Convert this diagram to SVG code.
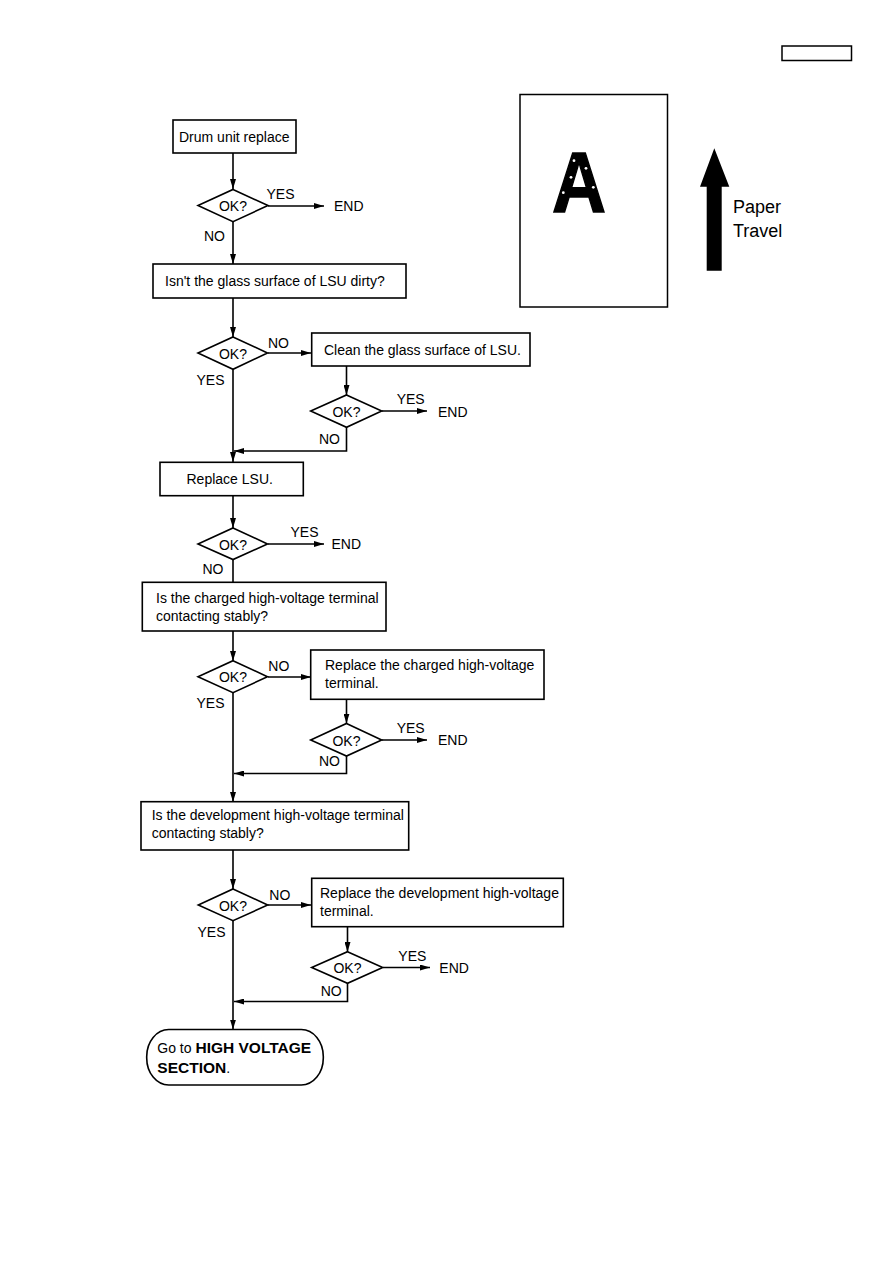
<svg xmlns="http://www.w3.org/2000/svg" width="893" height="1263" viewBox="0 0 893 1263">
<defs>
<marker id="ah" viewBox="0 0 10 6" refX="10" refY="3" markerWidth="10" markerHeight="6" markerUnits="userSpaceOnUse" orient="auto">
<path d="M0,0 L10,3 L0,6 Z" fill="#000"/>
</marker>
<style>
.box{fill:#fff;stroke:#000;stroke-width:1.6}
.dia{fill:#fff;stroke:#000;stroke-width:1.6}
.ln{fill:none;stroke:#000;stroke-width:1.6}
.t{font-family:"Liberation Sans",Arial,sans-serif;font-size:14px;fill:#000}
.b{font-weight:bold;font-size:15.5px}
.c{text-anchor:middle}
</style>
</defs>
<rect width="893" height="1263" fill="#fff"/>
<rect x="782" y="46" width="69.5" height="14.5" fill="none" stroke="#000" stroke-width="1.5"/>

<g id="paper">
<rect x="520" y="94.5" width="147.5" height="212.5" fill="none" stroke="#000" stroke-width="1.5"/>
<text x="579" y="212" transform="translate(579 0) scale(0.88 1) translate(-579 0)" class="c" stroke="#000" stroke-width="1.5" style="font-family:'Liberation Sans',Arial,sans-serif;font-weight:bold;font-size:85px">A</text>
<g fill="#fff">
<circle cx="574" cy="160.7" r="1.4"/><circle cx="586" cy="168.3" r="1.4"/><circle cx="571" cy="177.3" r="1.4"/><circle cx="593.3" cy="187.3" r="1.4"/><circle cx="563.3" cy="192.7" r="1.4"/>
</g>
<path d="M714.3,148.3 L729.3,186.7 L721.7,186.7 L721.7,270.7 L706.7,270.7 L706.7,186.7 L700,186.7 Z" fill="#000"/>
<text x="733" y="213.3" class="t" style="font-size:18px">Paper</text>
<text x="733" y="236.7" class="t" style="font-size:18px">Travel</text>
</g>

<g id="connectors">
<line class="ln" x1="233" y1="153" x2="233" y2="189" marker-end="url(#ah)"/>
<line class="ln" x1="268" y1="206" x2="324" y2="206" marker-end="url(#ah)"/>
<line class="ln" x1="233" y1="222" x2="233" y2="264" marker-end="url(#ah)"/>
<line class="ln" x1="233" y1="298" x2="233" y2="337" marker-end="url(#ah)"/>
<line class="ln" x1="268" y1="353" x2="311" y2="353" marker-end="url(#ah)"/>
<line class="ln" x1="233" y1="369" x2="233" y2="462" marker-end="url(#ah)"/>
<line class="ln" x1="346.5" y1="366" x2="346.5" y2="395" marker-end="url(#ah)"/>
<line class="ln" x1="382" y1="411" x2="427" y2="411" marker-end="url(#ah)"/>
<path class="ln" d="M346.5,427 V451 H234" marker-end="url(#ah)"/>
<line class="ln" x1="233" y1="496" x2="233" y2="528" marker-end="url(#ah)"/>
<line class="ln" x1="268" y1="544" x2="324" y2="544" marker-end="url(#ah)"/>
<line class="ln" x1="233" y1="560" x2="233" y2="582" />
<line class="ln" x1="233" y1="631" x2="233" y2="661" marker-end="url(#ah)"/>
<line class="ln" x1="268" y1="677" x2="311" y2="677" marker-end="url(#ah)"/>
<line class="ln" x1="233" y1="693" x2="233" y2="802" marker-end="url(#ah)"/>
<line class="ln" x1="346.5" y1="699" x2="346.5" y2="723.5" marker-end="url(#ah)"/>
<line class="ln" x1="382" y1="740" x2="427" y2="740" marker-end="url(#ah)"/>
<path class="ln" d="M346.5,756 V773.5 H234" marker-end="url(#ah)"/>
<line class="ln" x1="233" y1="850" x2="233" y2="889" marker-end="url(#ah)"/>
<line class="ln" x1="268" y1="905" x2="311" y2="905" marker-end="url(#ah)"/>
<line class="ln" x1="233" y1="921" x2="233" y2="1029.5" marker-end="url(#ah)"/>
<line class="ln" x1="347.5" y1="927" x2="347.5" y2="952" marker-end="url(#ah)"/>
<line class="ln" x1="383" y1="967.5" x2="430" y2="967.5" marker-end="url(#ah)"/>
<path class="ln" d="M347.5,983 V1001.5 H234" marker-end="url(#ah)"/>
</g>

<g id="n1"><rect class="box" x="173" y="120" width="123" height="33"/><text class="t" x="179" y="142">Drum unit replace</text></g>
<g id="d1"><polygon class="dia" points="233,189.5 268,205.5 233,221.7 198,205.5"/><text class="t c" x="233" y="211">OK?</text>
<text class="t" x="266.5" y="199">YES</text><text class="t" x="334" y="211">END</text><text class="t" x="204" y="241">NO</text></g>
<g id="n2"><rect class="box" x="153" y="264" width="253" height="34"/><text class="t" x="165" y="286">Isn't the glass surface of LSU dirty?</text></g>
<g id="d2"><polygon class="dia" points="233,337 267.5,353 233,369.3 198,353"/><text class="t c" x="233" y="358.5">OK?</text>
<text class="t" x="268" y="348">NO</text><text class="t" x="196.5" y="385">YES</text></g>
<g id="n3"><rect class="box" x="311.7" y="333" width="218.3" height="33"/><text class="t" x="324" y="355">Clean the glass surface of LSU.</text></g>
<g id="d3"><polygon class="dia" points="346.5,395 381.7,411 346.5,427.3 310.7,411"/><text class="t c" x="346.5" y="416.5">OK?</text>
<text class="t" x="396.7" y="404">YES</text><text class="t" x="438" y="416.7">END</text><text class="t" x="319" y="444">NO</text></g>
<g id="n4"><rect class="box" x="160" y="462.3" width="143.3" height="33.4"/><text class="t" x="186.5" y="484">Replace LSU.</text></g>
<g id="d4"><polygon class="dia" points="233,528 267.5,544 233,559.5 198,544"/><text class="t c" x="233" y="549.5">OK?</text>
<text class="t" x="290.5" y="537">YES</text><text class="t" x="331.5" y="549">END</text><text class="t" x="202.5" y="574">NO</text></g>
<g id="n5"><rect class="box" x="142.3" y="582.3" width="243.7" height="48.7"/><text class="t" x="156" y="602.7">Is the charged high-voltage terminal</text><text class="t" x="156" y="621">contacting stably?</text></g>
<g id="d5"><polygon class="dia" points="233,660.7 267.5,676.7 233,692.7 198,676.7"/><text class="t c" x="233" y="682">OK?</text>
<text class="t" x="268.3" y="670.7">NO</text><text class="t" x="196.5" y="708.3">YES</text></g>
<g id="n6"><rect class="box" x="310.7" y="650" width="233.3" height="49.3"/><text class="t" x="325" y="670">Replace the charged high-voltage</text><text class="t" x="325" y="688.3">terminal.</text></g>
<g id="d6"><polygon class="dia" points="346.5,723.5 381.7,740 346.5,756 310.7,740"/><text class="t c" x="346.5" y="745.5">OK?</text>
<text class="t" x="396.7" y="733.3">YES</text><text class="t" x="438" y="745">END</text><text class="t" x="319" y="766">NO</text></g>
<g id="n7"><rect class="box" x="141" y="801.7" width="267.7" height="48.3"/><text class="t" x="151.7" y="820">Is the development high-voltage terminal</text><text class="t" x="151.7" y="838.3">contacting stably?</text></g>
<g id="d7"><polygon class="dia" points="233,889 267.7,905 233,920.7 198.3,905"/><text class="t c" x="233" y="910.5">OK?</text>
<text class="t" x="269.3" y="900">NO</text><text class="t" x="197.5" y="936.7">YES</text></g>
<g id="n8"><rect class="box" x="311.7" y="878.3" width="251.6" height="48.4"/><text class="t" x="320" y="898.3">Replace the development high-voltage</text><text class="t" x="320" y="916">terminal.</text></g>
<g id="d8"><polygon class="dia" points="347.5,951.7 382.7,967.5 347.5,983.3 311.7,967.5"/><text class="t c" x="347.5" y="973">OK?</text>
<text class="t" x="398.3" y="960.7">YES</text><text class="t" x="439.3" y="973.3">END</text><text class="t" x="320.7" y="996">NO</text></g>
<g id="n9"><rect class="box" x="146.7" y="1029.5" width="176.6" height="55.5" rx="22" ry="27"/>
<text class="t" x="157.3" y="1053.3">Go to <tspan class="b">HIGH VOLTAGE</tspan></text>
<text class="t" x="157.3" y="1072.7"><tspan class="b">SECTION</tspan>.</text></g>
</svg>
